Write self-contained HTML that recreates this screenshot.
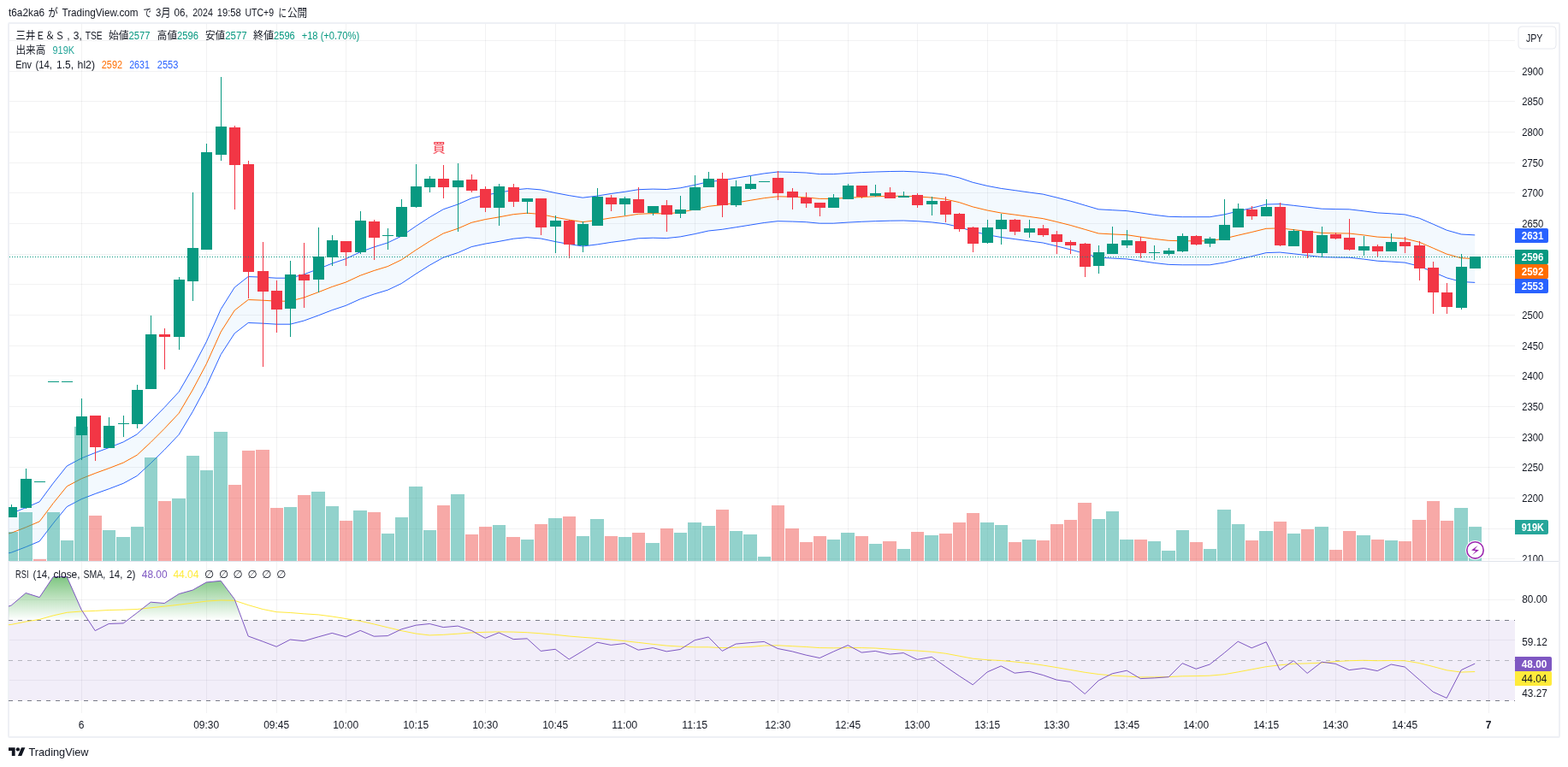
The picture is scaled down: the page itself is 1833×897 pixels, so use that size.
<!DOCTYPE html>
<html lang="ja"><head><meta charset="utf-8"><title>TradingView chart</title>
<style>html,body{margin:0;padding:0;background:#fff;}body{width:1833px;height:897px;overflow:hidden;}svg{display:block;}text{white-space:pre;}</style>
</head><body>
<svg width="1833" height="897" viewBox="0 0 1833 897" font-family='"Liberation Sans", "Noto Sans CJK JP", sans-serif'>
<defs>
<clipPath id="cm"><rect x="10" y="28" width="1761" height="628"/></clipPath>
<clipPath id="cr"><rect x="10" y="657" width="1761" height="177"/></clipPath>
<clipPath id="c70"><rect x="10" y="657" width="1761" height="68.25"/></clipPath>
<linearGradient id="gg" gradientUnits="userSpaceOnUse" x1="0" y1="654.67" x2="0" y2="725.25"><stop offset="0" stop-color="#4caf50" stop-opacity="1"/><stop offset="1" stop-color="#4caf50" stop-opacity="0"/></linearGradient>
<clipPath id="cm2"><rect x="1771" y="28" width="51" height="628"/></clipPath>
</defs>
<rect width="1833" height="897" fill="#fff"/>
<rect x="10" y="27" width="1813" height="835" rx="1.2" fill="#fff" stroke="#eef0f5" stroke-width="2"/>
<g fill="#2a2e39" fill-opacity="0.062" shape-rendering="crispEdges">
<rect x="95" y="28" width="1" height="806"/>
<rect x="241" y="28" width="1" height="806"/>
<rect x="323" y="28" width="1" height="806"/>
<rect x="404" y="28" width="1" height="806"/>
<rect x="486" y="28" width="1" height="806"/>
<rect x="567" y="28" width="1" height="806"/>
<rect x="649" y="28" width="1" height="806"/>
<rect x="730" y="28" width="1" height="806"/>
<rect x="812" y="28" width="1" height="806"/>
<rect x="909" y="28" width="1" height="806"/>
<rect x="991" y="28" width="1" height="806"/>
<rect x="1072" y="28" width="1" height="806"/>
<rect x="1154" y="28" width="1" height="806"/>
<rect x="1235" y="28" width="1" height="806"/>
<rect x="1317" y="28" width="1" height="806"/>
<rect x="1398" y="28" width="1" height="806"/>
<rect x="1480" y="28" width="1" height="806"/>
<rect x="1561" y="28" width="1" height="806"/>
<rect x="1642" y="28" width="1" height="806"/>
<rect x="1740" y="28" width="1" height="806"/>
<rect x="11" y="47" width="1760" height="1"/>
<rect x="11" y="83" width="1760" height="1"/>
<rect x="11" y="118" width="1760" height="1"/>
<rect x="11" y="154" width="1760" height="1"/>
<rect x="11" y="190" width="1760" height="1"/>
<rect x="11" y="225" width="1760" height="1"/>
<rect x="11" y="261" width="1760" height="1"/>
<rect x="11" y="297" width="1760" height="1"/>
<rect x="11" y="332" width="1760" height="1"/>
<rect x="11" y="368" width="1760" height="1"/>
<rect x="11" y="404" width="1760" height="1"/>
<rect x="11" y="439" width="1760" height="1"/>
<rect x="11" y="475" width="1760" height="1"/>
<rect x="11" y="511" width="1760" height="1"/>
<rect x="11" y="546" width="1760" height="1"/>
<rect x="11" y="582" width="1760" height="1"/>
<rect x="11" y="618" width="1760" height="1"/>
<rect x="11" y="653" width="1760" height="1"/>
<rect x="11" y="701" width="1760" height="1"/>
<rect x="11" y="748" width="1760" height="1"/>
<rect x="11" y="795" width="1760" height="1"/>
</g>
<g clip-path="url(#cm)">
<polygon points="-2.8,603.6 13.2,600.4 30.2,593.7 46.2,586.8 62.2,565.1 78.2,545.0 95.2,535.9 111.2,529.5 127.2,523.6 144.2,516.9 160.2,507.9 176.2,492.8 192.2,476.5 209.2,458.2 225.2,430.5 241.2,399.9 258.2,361.6 274.2,336.1 290.2,323.5 307.2,324.2 323.2,325.2 339.2,325.2 355.2,320.9 372.2,314.5 388.2,308.1 404.2,302.7 421.2,294.7 437.2,288.9 453.2,283.9 469.2,276.2 486.2,264.5 502.2,254.1 518.2,244.8 535.2,239.0 551.2,231.9 567.2,228.2 583.2,225.4 600.2,222.1 616.2,220.6 632.2,221.9 649.2,225.6 665.2,228.6 681.2,231.2 698.2,229.1 714.2,226.5 730.2,224.3 746.2,221.7 763.2,221.1 779.2,221.5 795.2,219.8 812.2,216.3 828.2,212.6 844.2,210.9 860.2,208.3 877.2,205.5 893.2,202.9 909.2,201.0 926.2,201.4 942.2,202.0 958.2,203.6 974.2,203.6 991.2,202.5 1007.2,201.6 1023.2,201.0 1040.2,200.5 1056.2,200.3 1072.2,201.0 1089.2,202.3 1105.2,204.2 1121.2,207.9 1137.2,213.3 1154.2,217.4 1170.2,220.4 1186.2,222.6 1203.2,225.0 1219.2,227.1 1235.2,231.0 1251.2,235.1 1268.2,240.1 1284.2,244.8 1300.2,245.7 1317.2,246.6 1333.2,248.9 1349.2,251.3 1366.2,253.3 1382.2,253.7 1398.2,253.7 1414.2,253.7 1431.2,250.9 1447.2,247.0 1463.2,243.3 1480.2,239.0 1496.2,238.6 1512.2,240.3 1528.2,242.2 1545.2,244.2 1561.2,244.6 1577.2,244.8 1594.2,246.8 1610.2,248.9 1626.2,249.8 1642.2,250.9 1659.2,255.2 1675.2,262.1 1691.2,269.2 1708.2,274.0 1724.2,274.9 1724.2,330.4 1708.2,329.5 1691.2,324.9 1675.2,318.0 1659.2,311.3 1642.2,307.1 1626.2,306.1 1610.2,305.2 1594.2,303.1 1577.2,301.2 1561.2,301.0 1545.2,300.6 1528.2,298.7 1512.2,296.8 1496.2,295.1 1480.2,295.6 1463.2,299.8 1447.2,303.3 1431.2,307.1 1414.2,309.8 1398.2,309.8 1382.2,309.8 1366.2,309.4 1349.2,307.5 1333.2,305.2 1317.2,302.9 1300.2,302.1 1284.2,301.2 1268.2,296.6 1251.2,291.8 1235.2,287.8 1219.2,284.0 1203.2,281.9 1186.2,279.6 1170.2,277.5 1154.2,274.6 1137.2,270.6 1121.2,265.4 1105.2,261.8 1089.2,259.9 1072.2,258.7 1056.2,258.0 1040.2,258.2 1023.2,258.7 1007.2,259.3 991.2,260.1 974.2,261.2 958.2,261.2 942.2,259.7 926.2,259.1 909.2,258.7 893.2,260.5 877.2,263.1 860.2,265.8 844.2,268.3 828.2,270.0 812.2,273.6 795.2,276.9 779.2,278.6 763.2,278.2 746.2,278.8 730.2,281.3 714.2,283.4 698.2,285.9 681.2,288.0 665.2,285.5 649.2,282.6 632.2,279.0 616.2,277.7 600.2,279.2 583.2,282.4 567.2,285.1 551.2,288.6 535.2,295.6 518.2,301.2 502.2,310.2 486.2,320.3 469.2,331.6 453.2,339.2 437.2,344.0 421.2,349.7 404.2,357.4 388.2,362.7 372.2,368.9 355.2,375.1 339.2,379.2 323.2,379.2 307.2,378.2 290.2,377.5 274.2,389.9 258.2,414.6 241.2,451.7 225.2,481.5 209.2,508.2 192.2,526.1 176.2,541.8 160.2,556.5 144.2,565.3 127.2,571.8 111.2,577.5 95.2,583.7 78.2,592.6 62.2,612.1 46.2,633.0 30.2,639.7 13.2,646.2 -2.8,649.4" fill="#2196f3" fill-opacity="0.055"/>
<polyline points="-2.8,603.6 13.2,600.4 30.2,593.7 46.2,586.8 62.2,565.1 78.2,545.0 95.2,535.9 111.2,529.5 127.2,523.6 144.2,516.9 160.2,507.9 176.2,492.8 192.2,476.5 209.2,458.2 225.2,430.5 241.2,399.9 258.2,361.6 274.2,336.1 290.2,323.5 307.2,324.2 323.2,325.2 339.2,325.2 355.2,320.9 372.2,314.5 388.2,308.1 404.2,302.7 421.2,294.7 437.2,288.9 453.2,283.9 469.2,276.2 486.2,264.5 502.2,254.1 518.2,244.8 535.2,239.0 551.2,231.9 567.2,228.2 583.2,225.4 600.2,222.1 616.2,220.6 632.2,221.9 649.2,225.6 665.2,228.6 681.2,231.2 698.2,229.1 714.2,226.5 730.2,224.3 746.2,221.7 763.2,221.1 779.2,221.5 795.2,219.8 812.2,216.3 828.2,212.6 844.2,210.9 860.2,208.3 877.2,205.5 893.2,202.9 909.2,201.0 926.2,201.4 942.2,202.0 958.2,203.6 974.2,203.6 991.2,202.5 1007.2,201.6 1023.2,201.0 1040.2,200.5 1056.2,200.3 1072.2,201.0 1089.2,202.3 1105.2,204.2 1121.2,207.9 1137.2,213.3 1154.2,217.4 1170.2,220.4 1186.2,222.6 1203.2,225.0 1219.2,227.1 1235.2,231.0 1251.2,235.1 1268.2,240.1 1284.2,244.8 1300.2,245.7 1317.2,246.6 1333.2,248.9 1349.2,251.3 1366.2,253.3 1382.2,253.7 1398.2,253.7 1414.2,253.7 1431.2,250.9 1447.2,247.0 1463.2,243.3 1480.2,239.0 1496.2,238.6 1512.2,240.3 1528.2,242.2 1545.2,244.2 1561.2,244.6 1577.2,244.8 1594.2,246.8 1610.2,248.9 1626.2,249.8 1642.2,250.9 1659.2,255.2 1675.2,262.1 1691.2,269.2 1708.2,274.0 1724.2,274.9" fill="none" stroke="#2962ff" stroke-width="1" stroke-linejoin="round"/>
<polyline points="-2.8,649.4 13.2,646.2 30.2,639.7 46.2,633.0 62.2,612.1 78.2,592.6 95.2,583.7 111.2,577.5 127.2,571.8 144.2,565.3 160.2,556.5 176.2,541.8 192.2,526.1 209.2,508.2 225.2,481.5 241.2,451.7 258.2,414.6 274.2,389.9 290.2,377.5 307.2,378.2 323.2,379.2 339.2,379.2 355.2,375.1 372.2,368.9 388.2,362.7 404.2,357.4 421.2,349.7 437.2,344.0 453.2,339.2 469.2,331.6 486.2,320.3 502.2,310.2 518.2,301.2 535.2,295.6 551.2,288.6 567.2,285.1 583.2,282.4 600.2,279.2 616.2,277.7 632.2,279.0 649.2,282.6 665.2,285.5 681.2,288.0 698.2,285.9 714.2,283.4 730.2,281.3 746.2,278.8 763.2,278.2 779.2,278.6 795.2,276.9 812.2,273.6 828.2,270.0 844.2,268.3 860.2,265.8 877.2,263.1 893.2,260.5 909.2,258.7 926.2,259.1 942.2,259.7 958.2,261.2 974.2,261.2 991.2,260.1 1007.2,259.3 1023.2,258.7 1040.2,258.2 1056.2,258.0 1072.2,258.7 1089.2,259.9 1105.2,261.8 1121.2,265.4 1137.2,270.6 1154.2,274.6 1170.2,277.5 1186.2,279.6 1203.2,281.9 1219.2,284.0 1235.2,287.8 1251.2,291.8 1268.2,296.6 1284.2,301.2 1300.2,302.1 1317.2,302.9 1333.2,305.2 1349.2,307.5 1366.2,309.4 1382.2,309.8 1398.2,309.8 1414.2,309.8 1431.2,307.1 1447.2,303.3 1463.2,299.8 1480.2,295.6 1496.2,295.1 1512.2,296.8 1528.2,298.7 1545.2,300.6 1561.2,301.0 1577.2,301.2 1594.2,303.1 1610.2,305.2 1626.2,306.1 1642.2,307.1 1659.2,311.3 1675.2,318.0 1691.2,324.9 1708.2,329.5 1724.2,330.4" fill="none" stroke="#2962ff" stroke-width="1" stroke-linejoin="round"/>
<polyline points="-2.8,626.5 13.2,623.3 30.2,616.7 46.2,609.9 62.2,588.6 78.2,568.8 95.2,559.8 111.2,553.5 127.2,547.7 144.2,541.1 160.2,532.2 176.2,517.3 192.2,501.3 209.2,483.2 225.2,456.0 241.2,425.8 258.2,388.1 274.2,363.0 290.2,350.5 307.2,351.2 323.2,352.2 339.2,352.2 355.2,348.0 372.2,341.7 388.2,335.4 404.2,330.1 421.2,322.2 437.2,316.5 453.2,311.6 469.2,303.9 486.2,292.4 502.2,282.2 518.2,273.0 535.2,267.3 551.2,260.3 567.2,256.6 583.2,253.9 600.2,250.7 616.2,249.2 632.2,250.5 649.2,254.1 665.2,257.1 681.2,259.6 698.2,257.5 714.2,254.9 730.2,252.8 746.2,250.3 763.2,249.6 779.2,250.0 795.2,248.3 812.2,244.9 828.2,241.3 844.2,239.6 860.2,237.1 877.2,234.3 893.2,231.7 909.2,229.8 926.2,230.2 942.2,230.9 958.2,232.4 974.2,232.4 991.2,231.3 1007.2,230.5 1023.2,229.8 1040.2,229.4 1056.2,229.2 1072.2,229.8 1089.2,231.1 1105.2,233.0 1121.2,236.6 1137.2,241.9 1154.2,246.0 1170.2,249.0 1186.2,251.1 1203.2,253.4 1219.2,255.6 1235.2,259.4 1251.2,263.4 1268.2,268.3 1284.2,273.0 1300.2,273.9 1317.2,274.7 1333.2,277.1 1349.2,279.4 1366.2,281.3 1382.2,281.8 1398.2,281.8 1414.2,281.8 1431.2,279.0 1447.2,275.2 1463.2,271.5 1480.2,267.3 1496.2,266.9 1512.2,268.6 1528.2,270.5 1545.2,272.4 1561.2,272.8 1577.2,273.0 1594.2,274.9 1610.2,277.1 1626.2,277.9 1642.2,279.0 1659.2,283.2 1675.2,290.1 1691.2,297.1 1708.2,301.8 1724.2,302.6" fill="none" stroke="#ff6d00" stroke-width="1" stroke-linejoin="round"/>
<g shape-rendering="crispEdges">
<rect x="6" y="622" width="15" height="34" fill="#26a69a" fill-opacity="0.5"/>
<rect x="22" y="599" width="16" height="57" fill="#26a69a" fill-opacity="0.5"/>
<rect x="39" y="654" width="15" height="2" fill="#ef5350" fill-opacity="0.5"/>
<rect x="55" y="599" width="15" height="57" fill="#26a69a" fill-opacity="0.5"/>
<rect x="71" y="632" width="15" height="24" fill="#26a69a" fill-opacity="0.5"/>
<rect x="87" y="499" width="16" height="157" fill="#26a69a" fill-opacity="0.5"/>
<rect x="104" y="603" width="15" height="53" fill="#ef5350" fill-opacity="0.5"/>
<rect x="120" y="620" width="15" height="36" fill="#26a69a" fill-opacity="0.5"/>
<rect x="136" y="628" width="16" height="28" fill="#26a69a" fill-opacity="0.5"/>
<rect x="153" y="616" width="15" height="40" fill="#26a69a" fill-opacity="0.5"/>
<rect x="169" y="535" width="15" height="121" fill="#26a69a" fill-opacity="0.5"/>
<rect x="185" y="586" width="15" height="70" fill="#ef5350" fill-opacity="0.5"/>
<rect x="201" y="583" width="16" height="73" fill="#26a69a" fill-opacity="0.5"/>
<rect x="218" y="533" width="15" height="123" fill="#26a69a" fill-opacity="0.5"/>
<rect x="234" y="550" width="15" height="106" fill="#26a69a" fill-opacity="0.5"/>
<rect x="250" y="505" width="16" height="151" fill="#26a69a" fill-opacity="0.5"/>
<rect x="267" y="567" width="15" height="89" fill="#ef5350" fill-opacity="0.5"/>
<rect x="283" y="527" width="15" height="129" fill="#ef5350" fill-opacity="0.5"/>
<rect x="299" y="526" width="16" height="130" fill="#ef5350" fill-opacity="0.5"/>
<rect x="316" y="594" width="15" height="62" fill="#ef5350" fill-opacity="0.5"/>
<rect x="332" y="593" width="15" height="63" fill="#26a69a" fill-opacity="0.5"/>
<rect x="348" y="579" width="15" height="77" fill="#ef5350" fill-opacity="0.5"/>
<rect x="364" y="575" width="16" height="81" fill="#26a69a" fill-opacity="0.5"/>
<rect x="381" y="592" width="15" height="64" fill="#26a69a" fill-opacity="0.5"/>
<rect x="397" y="609" width="15" height="47" fill="#ef5350" fill-opacity="0.5"/>
<rect x="413" y="597" width="16" height="59" fill="#26a69a" fill-opacity="0.5"/>
<rect x="430" y="599" width="15" height="57" fill="#ef5350" fill-opacity="0.5"/>
<rect x="446" y="624" width="15" height="32" fill="#26a69a" fill-opacity="0.5"/>
<rect x="462" y="605" width="15" height="51" fill="#26a69a" fill-opacity="0.5"/>
<rect x="478" y="569" width="16" height="87" fill="#26a69a" fill-opacity="0.5"/>
<rect x="495" y="620" width="15" height="36" fill="#26a69a" fill-opacity="0.5"/>
<rect x="511" y="591" width="15" height="65" fill="#ef5350" fill-opacity="0.5"/>
<rect x="527" y="578" width="16" height="78" fill="#26a69a" fill-opacity="0.5"/>
<rect x="544" y="625" width="15" height="31" fill="#ef5350" fill-opacity="0.5"/>
<rect x="560" y="616" width="15" height="40" fill="#ef5350" fill-opacity="0.5"/>
<rect x="576" y="614" width="15" height="42" fill="#26a69a" fill-opacity="0.5"/>
<rect x="592" y="628" width="16" height="28" fill="#ef5350" fill-opacity="0.5"/>
<rect x="609" y="631" width="15" height="25" fill="#26a69a" fill-opacity="0.5"/>
<rect x="625" y="613" width="15" height="43" fill="#ef5350" fill-opacity="0.5"/>
<rect x="641" y="606" width="16" height="50" fill="#26a69a" fill-opacity="0.5"/>
<rect x="658" y="604" width="15" height="52" fill="#ef5350" fill-opacity="0.5"/>
<rect x="674" y="627" width="15" height="29" fill="#26a69a" fill-opacity="0.5"/>
<rect x="690" y="607" width="16" height="49" fill="#26a69a" fill-opacity="0.5"/>
<rect x="707" y="627" width="15" height="29" fill="#ef5350" fill-opacity="0.5"/>
<rect x="723" y="628" width="15" height="28" fill="#26a69a" fill-opacity="0.5"/>
<rect x="739" y="623" width="15" height="33" fill="#ef5350" fill-opacity="0.5"/>
<rect x="755" y="635" width="16" height="21" fill="#26a69a" fill-opacity="0.5"/>
<rect x="772" y="618" width="15" height="38" fill="#ef5350" fill-opacity="0.5"/>
<rect x="788" y="623" width="15" height="33" fill="#26a69a" fill-opacity="0.5"/>
<rect x="804" y="611" width="16" height="45" fill="#26a69a" fill-opacity="0.5"/>
<rect x="821" y="615" width="15" height="41" fill="#26a69a" fill-opacity="0.5"/>
<rect x="837" y="596" width="15" height="60" fill="#ef5350" fill-opacity="0.5"/>
<rect x="853" y="621" width="15" height="35" fill="#26a69a" fill-opacity="0.5"/>
<rect x="869" y="625" width="16" height="31" fill="#26a69a" fill-opacity="0.5"/>
<rect x="886" y="651" width="15" height="5" fill="#26a69a" fill-opacity="0.5"/>
<rect x="902" y="591" width="15" height="65" fill="#ef5350" fill-opacity="0.5"/>
<rect x="918" y="618" width="16" height="38" fill="#ef5350" fill-opacity="0.5"/>
<rect x="935" y="634" width="15" height="22" fill="#ef5350" fill-opacity="0.5"/>
<rect x="951" y="627" width="15" height="29" fill="#ef5350" fill-opacity="0.5"/>
<rect x="967" y="631" width="15" height="25" fill="#26a69a" fill-opacity="0.5"/>
<rect x="983" y="623" width="16" height="33" fill="#26a69a" fill-opacity="0.5"/>
<rect x="1000" y="627" width="15" height="29" fill="#ef5350" fill-opacity="0.5"/>
<rect x="1016" y="636" width="15" height="20" fill="#26a69a" fill-opacity="0.5"/>
<rect x="1032" y="633" width="16" height="23" fill="#ef5350" fill-opacity="0.5"/>
<rect x="1049" y="642" width="15" height="14" fill="#26a69a" fill-opacity="0.5"/>
<rect x="1065" y="622" width="15" height="34" fill="#ef5350" fill-opacity="0.5"/>
<rect x="1081" y="626" width="16" height="30" fill="#26a69a" fill-opacity="0.5"/>
<rect x="1098" y="624" width="15" height="32" fill="#ef5350" fill-opacity="0.5"/>
<rect x="1114" y="611" width="15" height="45" fill="#ef5350" fill-opacity="0.5"/>
<rect x="1130" y="600" width="15" height="56" fill="#ef5350" fill-opacity="0.5"/>
<rect x="1146" y="611" width="16" height="45" fill="#26a69a" fill-opacity="0.5"/>
<rect x="1163" y="614" width="15" height="42" fill="#26a69a" fill-opacity="0.5"/>
<rect x="1179" y="634" width="15" height="22" fill="#ef5350" fill-opacity="0.5"/>
<rect x="1195" y="631" width="16" height="25" fill="#26a69a" fill-opacity="0.5"/>
<rect x="1212" y="632" width="15" height="24" fill="#ef5350" fill-opacity="0.5"/>
<rect x="1228" y="613" width="15" height="43" fill="#ef5350" fill-opacity="0.5"/>
<rect x="1244" y="608" width="15" height="48" fill="#ef5350" fill-opacity="0.5"/>
<rect x="1260" y="588" width="16" height="68" fill="#ef5350" fill-opacity="0.5"/>
<rect x="1277" y="607" width="15" height="49" fill="#26a69a" fill-opacity="0.5"/>
<rect x="1293" y="598" width="15" height="58" fill="#26a69a" fill-opacity="0.5"/>
<rect x="1309" y="631" width="16" height="25" fill="#26a69a" fill-opacity="0.5"/>
<rect x="1326" y="631" width="15" height="25" fill="#ef5350" fill-opacity="0.5"/>
<rect x="1342" y="633" width="15" height="23" fill="#26a69a" fill-opacity="0.5"/>
<rect x="1358" y="644" width="16" height="12" fill="#26a69a" fill-opacity="0.5"/>
<rect x="1375" y="620" width="15" height="36" fill="#26a69a" fill-opacity="0.5"/>
<rect x="1391" y="634" width="15" height="22" fill="#ef5350" fill-opacity="0.5"/>
<rect x="1407" y="642" width="15" height="14" fill="#26a69a" fill-opacity="0.5"/>
<rect x="1423" y="596" width="16" height="60" fill="#26a69a" fill-opacity="0.5"/>
<rect x="1440" y="613" width="15" height="43" fill="#26a69a" fill-opacity="0.5"/>
<rect x="1456" y="632" width="15" height="24" fill="#ef5350" fill-opacity="0.5"/>
<rect x="1472" y="621" width="16" height="35" fill="#26a69a" fill-opacity="0.5"/>
<rect x="1489" y="610" width="15" height="46" fill="#ef5350" fill-opacity="0.5"/>
<rect x="1505" y="624" width="15" height="32" fill="#26a69a" fill-opacity="0.5"/>
<rect x="1521" y="619" width="15" height="37" fill="#ef5350" fill-opacity="0.5"/>
<rect x="1537" y="616" width="16" height="40" fill="#26a69a" fill-opacity="0.5"/>
<rect x="1554" y="643" width="15" height="13" fill="#ef5350" fill-opacity="0.5"/>
<rect x="1570" y="621" width="15" height="35" fill="#ef5350" fill-opacity="0.5"/>
<rect x="1586" y="626" width="16" height="30" fill="#26a69a" fill-opacity="0.5"/>
<rect x="1603" y="631" width="15" height="25" fill="#ef5350" fill-opacity="0.5"/>
<rect x="1619" y="632" width="15" height="24" fill="#26a69a" fill-opacity="0.5"/>
<rect x="1635" y="633" width="15" height="23" fill="#ef5350" fill-opacity="0.5"/>
<rect x="1651" y="608" width="16" height="48" fill="#ef5350" fill-opacity="0.5"/>
<rect x="1668" y="586" width="15" height="70" fill="#ef5350" fill-opacity="0.5"/>
<rect x="1684" y="609" width="15" height="47" fill="#ef5350" fill-opacity="0.5"/>
<rect x="1700" y="594" width="16" height="62" fill="#26a69a" fill-opacity="0.5"/>
<rect x="1717" y="616" width="15" height="40" fill="#26a69a" fill-opacity="0.5"/>
</g>
<g shape-rendering="crispEdges">
<rect x="13" y="590" width="1" height="15" fill="#089981"/>
<rect x="7" y="593" width="13" height="12" fill="#089981"/>
<rect x="30" y="548" width="1" height="47" fill="#089981"/>
<rect x="24" y="560" width="13" height="34" fill="#089981"/>
<rect x="40" y="563" width="13" height="1" fill="#089981"/>
<rect x="56" y="446" width="13" height="1" fill="#089981"/>
<rect x="72" y="446" width="13" height="1" fill="#089981"/>
<rect x="95" y="466" width="1" height="72" fill="#089981"/>
<rect x="89" y="487" width="13" height="22" fill="#089981"/>
<rect x="111" y="486" width="1" height="53" fill="#f23645"/>
<rect x="105" y="486" width="13" height="37" fill="#f23645"/>
<rect x="127" y="488" width="1" height="36" fill="#089981"/>
<rect x="121" y="498" width="13" height="26" fill="#089981"/>
<rect x="144" y="486" width="1" height="25" fill="#089981"/>
<rect x="138" y="495" width="13" height="1" fill="#089981"/>
<rect x="160" y="450" width="1" height="51" fill="#089981"/>
<rect x="154" y="456" width="13" height="40" fill="#089981"/>
<rect x="176" y="369" width="1" height="86" fill="#089981"/>
<rect x="170" y="391" width="13" height="64" fill="#089981"/>
<rect x="192" y="384" width="1" height="48" fill="#f23645"/>
<rect x="186" y="391" width="13" height="3" fill="#f23645"/>
<rect x="209" y="324" width="1" height="85" fill="#089981"/>
<rect x="203" y="327" width="13" height="67" fill="#089981"/>
<rect x="225" y="225" width="1" height="127" fill="#089981"/>
<rect x="219" y="290" width="13" height="39" fill="#089981"/>
<rect x="241" y="168" width="1" height="124" fill="#089981"/>
<rect x="235" y="178" width="13" height="114" fill="#089981"/>
<rect x="258" y="90" width="1" height="98" fill="#089981"/>
<rect x="252" y="148" width="13" height="33" fill="#089981"/>
<rect x="274" y="147" width="1" height="98" fill="#f23645"/>
<rect x="268" y="149" width="13" height="44" fill="#f23645"/>
<rect x="290" y="188" width="1" height="161" fill="#f23645"/>
<rect x="284" y="192" width="13" height="126" fill="#f23645"/>
<rect x="307" y="283" width="1" height="146" fill="#f23645"/>
<rect x="301" y="317" width="13" height="24" fill="#f23645"/>
<rect x="323" y="328" width="1" height="61" fill="#f23645"/>
<rect x="317" y="340" width="13" height="22" fill="#f23645"/>
<rect x="339" y="305" width="1" height="89" fill="#089981"/>
<rect x="333" y="321" width="13" height="40" fill="#089981"/>
<rect x="355" y="284" width="1" height="76" fill="#f23645"/>
<rect x="349" y="321" width="13" height="7" fill="#f23645"/>
<rect x="372" y="266" width="1" height="76" fill="#089981"/>
<rect x="366" y="300" width="13" height="27" fill="#089981"/>
<rect x="388" y="275" width="1" height="36" fill="#089981"/>
<rect x="382" y="281" width="13" height="20" fill="#089981"/>
<rect x="404" y="282" width="1" height="29" fill="#f23645"/>
<rect x="398" y="282" width="13" height="13" fill="#f23645"/>
<rect x="421" y="247" width="1" height="50" fill="#089981"/>
<rect x="415" y="258" width="13" height="37" fill="#089981"/>
<rect x="437" y="257" width="1" height="47" fill="#f23645"/>
<rect x="431" y="259" width="13" height="19" fill="#f23645"/>
<rect x="453" y="267" width="1" height="25" fill="#089981"/>
<rect x="447" y="275" width="13" height="1" fill="#089981"/>
<rect x="469" y="233" width="1" height="44" fill="#089981"/>
<rect x="463" y="242" width="13" height="35" fill="#089981"/>
<rect x="486" y="192" width="1" height="51" fill="#089981"/>
<rect x="480" y="218" width="13" height="24" fill="#089981"/>
<rect x="502" y="206" width="1" height="19" fill="#089981"/>
<rect x="496" y="209" width="13" height="10" fill="#089981"/>
<rect x="518" y="193" width="1" height="39" fill="#f23645"/>
<rect x="512" y="209" width="13" height="10" fill="#f23645"/>
<rect x="535" y="191" width="1" height="80" fill="#089981"/>
<rect x="529" y="211" width="13" height="8" fill="#089981"/>
<rect x="551" y="204" width="1" height="21" fill="#f23645"/>
<rect x="545" y="210" width="13" height="13" fill="#f23645"/>
<rect x="567" y="218" width="1" height="30" fill="#f23645"/>
<rect x="561" y="221" width="13" height="22" fill="#f23645"/>
<rect x="583" y="215" width="1" height="49" fill="#089981"/>
<rect x="577" y="218" width="13" height="25" fill="#089981"/>
<rect x="600" y="215" width="1" height="27" fill="#f23645"/>
<rect x="594" y="219" width="13" height="17" fill="#f23645"/>
<rect x="616" y="232" width="1" height="18" fill="#089981"/>
<rect x="610" y="232" width="13" height="4" fill="#089981"/>
<rect x="632" y="232" width="1" height="43" fill="#f23645"/>
<rect x="626" y="232" width="13" height="34" fill="#f23645"/>
<rect x="649" y="252" width="1" height="44" fill="#089981"/>
<rect x="643" y="258" width="13" height="7" fill="#089981"/>
<rect x="665" y="257" width="1" height="45" fill="#f23645"/>
<rect x="659" y="258" width="13" height="28" fill="#f23645"/>
<rect x="681" y="259" width="1" height="36" fill="#089981"/>
<rect x="675" y="262" width="13" height="25" fill="#089981"/>
<rect x="698" y="220" width="1" height="44" fill="#089981"/>
<rect x="692" y="230" width="13" height="34" fill="#089981"/>
<rect x="714" y="228" width="1" height="19" fill="#f23645"/>
<rect x="708" y="231" width="13" height="8" fill="#f23645"/>
<rect x="730" y="230" width="1" height="22" fill="#089981"/>
<rect x="724" y="232" width="13" height="7" fill="#089981"/>
<rect x="746" y="219" width="1" height="30" fill="#f23645"/>
<rect x="740" y="233" width="13" height="16" fill="#f23645"/>
<rect x="763" y="241" width="1" height="11" fill="#089981"/>
<rect x="757" y="241" width="13" height="8" fill="#089981"/>
<rect x="779" y="234" width="1" height="37" fill="#f23645"/>
<rect x="773" y="240" width="13" height="11" fill="#f23645"/>
<rect x="795" y="229" width="1" height="26" fill="#089981"/>
<rect x="789" y="245" width="13" height="5" fill="#089981"/>
<rect x="812" y="205" width="1" height="41" fill="#089981"/>
<rect x="806" y="219" width="13" height="27" fill="#089981"/>
<rect x="828" y="201" width="1" height="18" fill="#089981"/>
<rect x="822" y="209" width="13" height="10" fill="#089981"/>
<rect x="844" y="202" width="1" height="52" fill="#f23645"/>
<rect x="838" y="209" width="13" height="31" fill="#f23645"/>
<rect x="860" y="211" width="1" height="31" fill="#089981"/>
<rect x="854" y="218" width="13" height="22" fill="#089981"/>
<rect x="877" y="206" width="1" height="16" fill="#089981"/>
<rect x="871" y="215" width="13" height="6" fill="#089981"/>
<rect x="887" y="212" width="13" height="1" fill="#089981"/>
<rect x="909" y="200" width="1" height="34" fill="#f23645"/>
<rect x="903" y="208" width="13" height="18" fill="#f23645"/>
<rect x="926" y="220" width="1" height="25" fill="#f23645"/>
<rect x="920" y="224" width="13" height="7" fill="#f23645"/>
<rect x="942" y="225" width="1" height="18" fill="#f23645"/>
<rect x="936" y="231" width="13" height="7" fill="#f23645"/>
<rect x="958" y="237" width="1" height="16" fill="#f23645"/>
<rect x="952" y="237" width="13" height="6" fill="#f23645"/>
<rect x="974" y="227" width="1" height="16" fill="#089981"/>
<rect x="968" y="231" width="13" height="12" fill="#089981"/>
<rect x="991" y="215" width="1" height="18" fill="#089981"/>
<rect x="985" y="217" width="13" height="16" fill="#089981"/>
<rect x="1007" y="217" width="1" height="15" fill="#f23645"/>
<rect x="1001" y="217" width="13" height="13" fill="#f23645"/>
<rect x="1023" y="216" width="1" height="14" fill="#089981"/>
<rect x="1017" y="226" width="13" height="3" fill="#089981"/>
<rect x="1040" y="219" width="1" height="13" fill="#f23645"/>
<rect x="1034" y="225" width="13" height="7" fill="#f23645"/>
<rect x="1056" y="224" width="1" height="7" fill="#089981"/>
<rect x="1050" y="229" width="13" height="2" fill="#089981"/>
<rect x="1072" y="226" width="1" height="17" fill="#f23645"/>
<rect x="1066" y="228" width="13" height="12" fill="#f23645"/>
<rect x="1089" y="230" width="1" height="22" fill="#089981"/>
<rect x="1083" y="235" width="13" height="4" fill="#089981"/>
<rect x="1105" y="230" width="1" height="30" fill="#f23645"/>
<rect x="1099" y="235" width="13" height="16" fill="#f23645"/>
<rect x="1121" y="249" width="1" height="22" fill="#f23645"/>
<rect x="1115" y="250" width="13" height="18" fill="#f23645"/>
<rect x="1137" y="265" width="1" height="30" fill="#f23645"/>
<rect x="1131" y="266" width="13" height="19" fill="#f23645"/>
<rect x="1154" y="257" width="1" height="28" fill="#089981"/>
<rect x="1148" y="266" width="13" height="18" fill="#089981"/>
<rect x="1170" y="250" width="1" height="36" fill="#089981"/>
<rect x="1164" y="257" width="13" height="11" fill="#089981"/>
<rect x="1186" y="256" width="1" height="19" fill="#f23645"/>
<rect x="1180" y="257" width="13" height="14" fill="#f23645"/>
<rect x="1203" y="257" width="1" height="21" fill="#089981"/>
<rect x="1197" y="267" width="13" height="5" fill="#089981"/>
<rect x="1219" y="263" width="1" height="14" fill="#f23645"/>
<rect x="1213" y="267" width="13" height="8" fill="#f23645"/>
<rect x="1235" y="270" width="1" height="27" fill="#f23645"/>
<rect x="1229" y="274" width="13" height="9" fill="#f23645"/>
<rect x="1251" y="281" width="1" height="16" fill="#f23645"/>
<rect x="1245" y="283" width="13" height="4" fill="#f23645"/>
<rect x="1268" y="284" width="1" height="40" fill="#f23645"/>
<rect x="1262" y="285" width="13" height="27" fill="#f23645"/>
<rect x="1284" y="287" width="1" height="33" fill="#089981"/>
<rect x="1278" y="295" width="13" height="16" fill="#089981"/>
<rect x="1300" y="265" width="1" height="32" fill="#089981"/>
<rect x="1294" y="285" width="13" height="12" fill="#089981"/>
<rect x="1317" y="269" width="1" height="21" fill="#089981"/>
<rect x="1311" y="281" width="13" height="6" fill="#089981"/>
<rect x="1333" y="277" width="1" height="25" fill="#f23645"/>
<rect x="1327" y="282" width="13" height="14" fill="#f23645"/>
<rect x="1349" y="287" width="1" height="17" fill="#089981"/>
<rect x="1343" y="295" width="13" height="1" fill="#089981"/>
<rect x="1366" y="290" width="1" height="9" fill="#089981"/>
<rect x="1360" y="293" width="13" height="4" fill="#089981"/>
<rect x="1382" y="273" width="1" height="22" fill="#089981"/>
<rect x="1376" y="276" width="13" height="18" fill="#089981"/>
<rect x="1398" y="275" width="1" height="12" fill="#f23645"/>
<rect x="1392" y="276" width="13" height="10" fill="#f23645"/>
<rect x="1414" y="277" width="1" height="12" fill="#089981"/>
<rect x="1408" y="279" width="13" height="6" fill="#089981"/>
<rect x="1431" y="233" width="1" height="48" fill="#089981"/>
<rect x="1425" y="263" width="13" height="18" fill="#089981"/>
<rect x="1447" y="238" width="1" height="28" fill="#089981"/>
<rect x="1441" y="244" width="13" height="22" fill="#089981"/>
<rect x="1463" y="241" width="1" height="16" fill="#f23645"/>
<rect x="1457" y="245" width="13" height="8" fill="#f23645"/>
<rect x="1480" y="233" width="1" height="20" fill="#089981"/>
<rect x="1474" y="242" width="13" height="11" fill="#089981"/>
<rect x="1496" y="237" width="1" height="51" fill="#f23645"/>
<rect x="1490" y="242" width="13" height="45" fill="#f23645"/>
<rect x="1512" y="268" width="1" height="20" fill="#089981"/>
<rect x="1506" y="270" width="13" height="18" fill="#089981"/>
<rect x="1528" y="270" width="1" height="32" fill="#f23645"/>
<rect x="1522" y="270" width="13" height="26" fill="#f23645"/>
<rect x="1545" y="265" width="1" height="36" fill="#089981"/>
<rect x="1539" y="275" width="13" height="21" fill="#089981"/>
<rect x="1561" y="272" width="1" height="8" fill="#f23645"/>
<rect x="1555" y="274" width="13" height="5" fill="#f23645"/>
<rect x="1577" y="256" width="1" height="37" fill="#f23645"/>
<rect x="1571" y="278" width="13" height="14" fill="#f23645"/>
<rect x="1594" y="276" width="1" height="23" fill="#089981"/>
<rect x="1588" y="288" width="13" height="5" fill="#089981"/>
<rect x="1610" y="286" width="1" height="14" fill="#f23645"/>
<rect x="1604" y="288" width="13" height="6" fill="#f23645"/>
<rect x="1626" y="273" width="1" height="21" fill="#089981"/>
<rect x="1620" y="283" width="13" height="11" fill="#089981"/>
<rect x="1642" y="277" width="1" height="19" fill="#f23645"/>
<rect x="1636" y="283" width="13" height="5" fill="#f23645"/>
<rect x="1659" y="282" width="1" height="46" fill="#f23645"/>
<rect x="1653" y="287" width="13" height="27" fill="#f23645"/>
<rect x="1675" y="306" width="1" height="61" fill="#f23645"/>
<rect x="1669" y="313" width="13" height="29" fill="#f23645"/>
<rect x="1691" y="331" width="1" height="36" fill="#f23645"/>
<rect x="1685" y="342" width="13" height="17" fill="#f23645"/>
<rect x="1708" y="297" width="1" height="65" fill="#089981"/>
<rect x="1702" y="312" width="13" height="48" fill="#089981"/>
<rect x="1718" y="300" width="13" height="14" fill="#089981"/>
</g>
</g>
<line x1="11" y1="300.5" x2="1771" y2="300.5" stroke="#089981" stroke-width="1" stroke-dasharray="1 2" shape-rendering="crispEdges"/>
<text x="513.10" y="178.40" font-size="15.3" fill="#f23645" text-anchor="middle">買</text>
<rect x="11" y="656" width="1811" height="1" fill="#e0e3eb" shape-rendering="crispEdges"/>
<rect x="11" y="725.2" width="1760" height="94.1" fill="#7e57c2" fill-opacity="0.1"/>
<g clip-path="url(#cr)">
<polygon points="-2.8,713.5 13.2,708.0 30.2,693.5 46.2,698.6 62.2,674.6 78.2,674.6 95.2,713.1 111.2,737.6 127.2,729.5 144.2,728.9 160.2,716.7 176.2,704.2 192.2,705.5 209.2,694.6 225.2,690.1 241.2,681.0 258.2,679.3 274.2,700.8 290.2,744.0 307.2,750.2 323.2,756.3 339.2,748.0 355.2,749.7 372.2,744.8 388.2,740.4 404.2,744.8 421.2,737.4 437.2,744.2 453.2,743.6 469.2,735.9 486.2,731.2 502.2,729.5 518.2,733.6 535.2,732.1 551.2,737.4 567.2,746.3 583.2,739.9 600.2,747.6 616.2,746.8 632.2,761.4 649.2,759.3 665.2,771.0 681.2,761.4 698.2,751.2 714.2,754.4 730.2,752.5 746.2,760.2 763.2,757.6 779.2,761.9 795.2,759.5 812.2,748.7 828.2,745.0 844.2,761.4 860.2,753.1 877.2,751.6 893.2,750.4 909.2,758.5 926.2,761.9 942.2,766.1 958.2,769.5 974.2,762.1 991.2,754.6 1007.2,763.1 1023.2,761.4 1040.2,765.1 1056.2,763.6 1072.2,771.4 1089.2,768.3 1105.2,779.5 1121.2,790.4 1137.2,800.8 1154.2,785.9 1170.2,778.9 1186.2,787.2 1203.2,785.3 1219.2,789.5 1235.2,795.1 1251.2,797.4 1268.2,811.5 1284.2,795.9 1300.2,787.8 1317.2,784.2 1333.2,793.6 1349.2,792.9 1366.2,791.7 1382.2,775.7 1398.2,782.3 1414.2,777.0 1431.2,763.6 1447.2,750.2 1463.2,757.8 1480.2,750.8 1496.2,783.6 1512.2,772.7 1528.2,787.4 1545.2,774.2 1561.2,776.3 1577.2,783.6 1594.2,781.5 1610.2,784.6 1626.2,777.0 1642.2,780.0 1659.2,794.9 1675.2,809.1 1691.2,816.4 1708.2,783.6 1724.2,776.1 1724.2,772.3 -2.8,772.3" fill="url(#gg)" clip-path="url(#c70)"/>
<line x1="10" y1="725.5" x2="1771" y2="725.5" stroke="#787b86" stroke-opacity="1" stroke-width="1" stroke-dasharray="5 6" shape-rendering="crispEdges"/>
<line x1="10" y1="772.5" x2="1771" y2="772.5" stroke="#787b86" stroke-opacity="0.5" stroke-width="1" stroke-dasharray="5 6" shape-rendering="crispEdges"/>
<line x1="10" y1="819.5" x2="1771" y2="819.5" stroke="#787b86" stroke-opacity="1" stroke-width="1" stroke-dasharray="5 6" shape-rendering="crispEdges"/>
<polyline points="-2.8,731.9 13.2,730.4 30.2,727.0 46.2,724.4 62.2,719.9 78.2,716.3 95.2,715.0 111.2,714.4 127.2,713.5 144.2,713.1 160.2,712.5 176.2,710.8 192.2,709.1 209.2,707.2 225.2,705.2 241.2,703.1 258.2,702.0 274.2,702.3 290.2,707.6 307.2,712.5 323.2,715.7 339.2,716.5 355.2,717.8 372.2,718.9 388.2,721.0 404.2,723.5 421.2,726.3 437.2,729.9 453.2,733.8 469.2,737.6 486.2,741.0 502.2,742.9 518.2,742.3 535.2,741.2 551.2,739.9 567.2,739.3 583.2,738.9 600.2,739.1 616.2,739.7 632.2,740.8 649.2,742.3 665.2,744.0 681.2,745.3 698.2,746.5 714.2,748.0 730.2,749.7 746.2,751.4 763.2,753.4 779.2,755.1 795.2,756.1 812.2,756.8 828.2,756.8 844.2,757.6 860.2,757.2 877.2,756.5 893.2,755.1 909.2,754.8 926.2,755.7 942.2,756.5 958.2,757.6 974.2,757.8 991.2,757.6 1007.2,757.6 1023.2,758.0 1040.2,759.1 1056.2,760.2 1072.2,761.0 1089.2,762.3 1105.2,764.2 1121.2,767.2 1137.2,770.2 1154.2,771.7 1170.2,772.5 1186.2,774.0 1203.2,775.7 1219.2,778.0 1235.2,780.6 1251.2,783.4 1268.2,786.3 1284.2,788.5 1300.2,790.0 1317.2,791.0 1333.2,791.9 1349.2,791.9 1366.2,791.5 1382.2,790.8 1398.2,790.6 1414.2,790.2 1431.2,788.7 1447.2,785.9 1463.2,782.9 1480.2,779.7 1496.2,777.8 1512.2,776.3 1528.2,775.9 1545.2,775.1 1561.2,773.6 1577.2,772.7 1594.2,772.3 1610.2,772.7 1626.2,772.5 1642.2,772.7 1659.2,775.5 1675.2,779.5 1691.2,783.8 1708.2,786.1 1724.2,785.5" fill="none" stroke="#ffe93b" stroke-width="1" stroke-linejoin="round"/>
<polyline points="-2.8,713.5 13.2,708.0 30.2,693.5 46.2,698.6 62.2,674.6 78.2,674.6 95.2,713.1 111.2,737.6 127.2,729.5 144.2,728.9 160.2,716.7 176.2,704.2 192.2,705.5 209.2,694.6 225.2,690.1 241.2,681.0 258.2,679.3 274.2,700.8 290.2,744.0 307.2,750.2 323.2,756.3 339.2,748.0 355.2,749.7 372.2,744.8 388.2,740.4 404.2,744.8 421.2,737.4 437.2,744.2 453.2,743.6 469.2,735.9 486.2,731.2 502.2,729.5 518.2,733.6 535.2,732.1 551.2,737.4 567.2,746.3 583.2,739.9 600.2,747.6 616.2,746.8 632.2,761.4 649.2,759.3 665.2,771.0 681.2,761.4 698.2,751.2 714.2,754.4 730.2,752.5 746.2,760.2 763.2,757.6 779.2,761.9 795.2,759.5 812.2,748.7 828.2,745.0 844.2,761.4 860.2,753.1 877.2,751.6 893.2,750.4 909.2,758.5 926.2,761.9 942.2,766.1 958.2,769.5 974.2,762.1 991.2,754.6 1007.2,763.1 1023.2,761.4 1040.2,765.1 1056.2,763.6 1072.2,771.4 1089.2,768.3 1105.2,779.5 1121.2,790.4 1137.2,800.8 1154.2,785.9 1170.2,778.9 1186.2,787.2 1203.2,785.3 1219.2,789.5 1235.2,795.1 1251.2,797.4 1268.2,811.5 1284.2,795.9 1300.2,787.8 1317.2,784.2 1333.2,793.6 1349.2,792.9 1366.2,791.7 1382.2,775.7 1398.2,782.3 1414.2,777.0 1431.2,763.6 1447.2,750.2 1463.2,757.8 1480.2,750.8 1496.2,783.6 1512.2,772.7 1528.2,787.4 1545.2,774.2 1561.2,776.3 1577.2,783.6 1594.2,781.5 1610.2,784.6 1626.2,777.0 1642.2,780.0 1659.2,794.9 1675.2,809.1 1691.2,816.4 1708.2,783.6 1724.2,776.1" fill="none" stroke="#7e57c2" stroke-width="1" stroke-linejoin="round"/>
</g>
<circle cx="1724.5" cy="643.4" r="11.3" fill="#fff"/>
<circle cx="1724.5" cy="643.4" r="9.7" fill="#fff" stroke="#9c27b0" stroke-width="1.6"/>
<path d="M1727.80 637.80 L1720.00 643.50 L1725.20 644.40 L1721.00 649.00 L1729.00 643.30 L1723.90 642.40 Z" fill="#9c27b0"/>
<text x="10.00" y="19.40" font-size="13" fill="#131722" textLength="42.10" lengthAdjust="spacingAndGlyphs">t6a2ka6</text>
<text x="56.20" y="19.40" font-size="13" fill="#131722" textLength="11.60" lengthAdjust="spacingAndGlyphs">が</text>
<text x="72.50" y="19.40" font-size="13" fill="#131722" textLength="89.10" lengthAdjust="spacingAndGlyphs">TradingView.com</text>
<text x="167.50" y="19.40" font-size="13" fill="#131722" textLength="9.40" lengthAdjust="spacingAndGlyphs">で</text>
<text x="181.90" y="19.40" font-size="13" fill="#131722" textLength="17.60" lengthAdjust="spacingAndGlyphs">3月</text>
<text x="203.50" y="19.40" font-size="13" fill="#131722" textLength="16.10" lengthAdjust="spacingAndGlyphs">06,</text>
<text x="225.20" y="19.40" font-size="13" fill="#131722" textLength="23.60" lengthAdjust="spacingAndGlyphs">2024</text>
<text x="253.80" y="19.40" font-size="13" fill="#131722" textLength="28.00" lengthAdjust="spacingAndGlyphs">19:58</text>
<text x="286.50" y="19.40" font-size="13" fill="#131722" textLength="33.60" lengthAdjust="spacingAndGlyphs">UTC+9</text>
<text x="325.40" y="19.40" font-size="13" fill="#131722" textLength="9.60" lengthAdjust="spacingAndGlyphs">に</text>
<text x="336.00" y="19.40" font-size="13" fill="#131722" textLength="23.20" lengthAdjust="spacingAndGlyphs">公開</text>
<text x="18.60" y="46.40" font-size="12" fill="#131722" textLength="57.10" lengthAdjust="spacingAndGlyphs">三井Ｅ＆Ｓ</text>
<text x="78.60" y="46.40" font-size="12" fill="#131722" textLength="3.00" lengthAdjust="spacingAndGlyphs">,</text>
<text x="85.80" y="46.40" font-size="12" fill="#131722" textLength="10.00" lengthAdjust="spacingAndGlyphs">3,</text>
<text x="99.70" y="46.40" font-size="12" fill="#131722" textLength="19.80" lengthAdjust="spacingAndGlyphs">TSE</text>
<text x="127.00" y="46.40" font-size="12" fill="#131722" textLength="23.60" lengthAdjust="spacingAndGlyphs">始値</text>
<text x="150.60" y="46.40" font-size="12" fill="#089981" textLength="24.80" lengthAdjust="spacingAndGlyphs">2577</text>
<text x="183.80" y="46.40" font-size="12" fill="#131722" textLength="23.20" lengthAdjust="spacingAndGlyphs">高値</text>
<text x="207.00" y="46.40" font-size="12" fill="#089981" textLength="24.90" lengthAdjust="spacingAndGlyphs">2596</text>
<text x="240.00" y="46.40" font-size="12" fill="#131722" textLength="23.20" lengthAdjust="spacingAndGlyphs">安値</text>
<text x="263.20" y="46.40" font-size="12" fill="#089981" textLength="25.50" lengthAdjust="spacingAndGlyphs">2577</text>
<text x="295.90" y="46.40" font-size="12" fill="#131722" textLength="24.20" lengthAdjust="spacingAndGlyphs">終値</text>
<text x="320.10" y="46.40" font-size="12" fill="#089981" textLength="24.70" lengthAdjust="spacingAndGlyphs">2596</text>
<text x="352.70" y="46.40" font-size="12" fill="#089981" textLength="67.40" lengthAdjust="spacingAndGlyphs">+18 (+0.70%)</text>
<text x="18.40" y="62.70" font-size="12" fill="#131722" textLength="34.90" lengthAdjust="spacingAndGlyphs">出来高</text>
<text x="61.50" y="62.70" font-size="12" fill="#26a69a" textLength="25.50" lengthAdjust="spacingAndGlyphs">919K</text>
<text x="18.20" y="79.90" font-size="12" fill="#131722" textLength="18.80" lengthAdjust="spacingAndGlyphs">Env</text>
<text x="41.60" y="79.90" font-size="12" fill="#131722" textLength="19.40" lengthAdjust="spacingAndGlyphs">(14,</text>
<text x="66.00" y="79.90" font-size="12" fill="#131722" textLength="20.00" lengthAdjust="spacingAndGlyphs">1.5,</text>
<text x="90.60" y="79.90" font-size="12" fill="#131722" textLength="20.40" lengthAdjust="spacingAndGlyphs">hl2)</text>
<text x="118.80" y="79.90" font-size="12" fill="#ff6d00" textLength="24.20" lengthAdjust="spacingAndGlyphs">2592</text>
<text x="151.20" y="79.90" font-size="12" fill="#2962ff" textLength="23.60" lengthAdjust="spacingAndGlyphs">2631</text>
<text x="183.80" y="79.90" font-size="12" fill="#2962ff" textLength="24.50" lengthAdjust="spacingAndGlyphs">2553</text>
<text x="18.10" y="675.90" font-size="12" fill="#131722" textLength="15.40" lengthAdjust="spacingAndGlyphs">RSI</text>
<text x="38.60" y="675.90" font-size="12" fill="#131722" textLength="19.80" lengthAdjust="spacingAndGlyphs">(14,</text>
<text x="62.40" y="675.90" font-size="12" fill="#131722" textLength="31.20" lengthAdjust="spacingAndGlyphs">close,</text>
<text x="97.60" y="675.90" font-size="12" fill="#131722" textLength="25.60" lengthAdjust="spacingAndGlyphs">SMA,</text>
<text x="127.60" y="675.90" font-size="12" fill="#131722" textLength="15.70" lengthAdjust="spacingAndGlyphs">14,</text>
<text x="148.00" y="675.90" font-size="12" fill="#131722" textLength="10.40" lengthAdjust="spacingAndGlyphs">2)</text>
<text x="165.80" y="675.90" font-size="12" fill="#7e57c2" textLength="29.80" lengthAdjust="spacingAndGlyphs">48.00</text>
<text x="202.40" y="675.90" font-size="12" fill="#ffeb3b" textLength="30.10" lengthAdjust="spacingAndGlyphs">44.04</text>
<text x="244.50" y="675.80" font-size="12.8" fill="#131722" text-anchor="middle" font-family="DejaVu Sans, sans-serif">∅</text>
<text x="261.50" y="675.80" font-size="12.8" fill="#131722" text-anchor="middle" font-family="DejaVu Sans, sans-serif">∅</text>
<text x="278.20" y="675.80" font-size="12.8" fill="#131722" text-anchor="middle" font-family="DejaVu Sans, sans-serif">∅</text>
<text x="295.20" y="675.80" font-size="12.8" fill="#131722" text-anchor="middle" font-family="DejaVu Sans, sans-serif">∅</text>
<text x="311.80" y="675.80" font-size="12.8" fill="#131722" text-anchor="middle" font-family="DejaVu Sans, sans-serif">∅</text>
<text x="328.80" y="675.80" font-size="12.8" fill="#131722" text-anchor="middle" font-family="DejaVu Sans, sans-serif">∅</text>
<g clip-path="url(#cm2)">
<text x="1779.30" y="87.50" font-size="12" fill="#131722" textLength="25.00" lengthAdjust="spacingAndGlyphs">2900</text>
<text x="1779.30" y="123.18" font-size="12" fill="#131722" textLength="25.00" lengthAdjust="spacingAndGlyphs">2850</text>
<text x="1779.30" y="158.86" font-size="12" fill="#131722" textLength="25.00" lengthAdjust="spacingAndGlyphs">2800</text>
<text x="1779.30" y="194.54" font-size="12" fill="#131722" textLength="25.00" lengthAdjust="spacingAndGlyphs">2750</text>
<text x="1779.30" y="230.22" font-size="12" fill="#131722" textLength="25.00" lengthAdjust="spacingAndGlyphs">2700</text>
<text x="1779.30" y="265.90" font-size="12" fill="#131722" textLength="25.00" lengthAdjust="spacingAndGlyphs">2650</text>
<text x="1779.30" y="372.94" font-size="12" fill="#131722" textLength="25.00" lengthAdjust="spacingAndGlyphs">2500</text>
<text x="1779.30" y="408.62" font-size="12" fill="#131722" textLength="25.00" lengthAdjust="spacingAndGlyphs">2450</text>
<text x="1779.30" y="444.30" font-size="12" fill="#131722" textLength="25.00" lengthAdjust="spacingAndGlyphs">2400</text>
<text x="1779.30" y="479.98" font-size="12" fill="#131722" textLength="25.00" lengthAdjust="spacingAndGlyphs">2350</text>
<text x="1779.30" y="515.66" font-size="12" fill="#131722" textLength="25.00" lengthAdjust="spacingAndGlyphs">2300</text>
<text x="1779.30" y="551.34" font-size="12" fill="#131722" textLength="25.00" lengthAdjust="spacingAndGlyphs">2250</text>
<text x="1779.30" y="587.02" font-size="12" fill="#131722" textLength="25.00" lengthAdjust="spacingAndGlyphs">2200</text>
<text x="1779.30" y="622.70" font-size="12" fill="#131722" textLength="25.00" lengthAdjust="spacingAndGlyphs">2150</text>
<text x="1779.30" y="658.38" font-size="12" fill="#131722" textLength="25.00" lengthAdjust="spacingAndGlyphs">2100</text>
</g>
<path d="M1771 267 h37 a2 2 0 0 1 2 2 v13 a2 2 0 0 1 -2 2 h-37 z" fill="#2962ff"/>
<text x="1778.80" y="279.80" font-size="12" fill="#fff" font-weight="bold" textLength="25.50" lengthAdjust="spacingAndGlyphs">2631</text>
<path d="M1771 292 h37 a2 2 0 0 1 2 2 v13 a2 2 0 0 1 -2 2 h-37 z" fill="#089981"/>
<text x="1778.80" y="304.80" font-size="12" fill="#fff" font-weight="bold" textLength="25.50" lengthAdjust="spacingAndGlyphs">2596</text>
<path d="M1771 309 h37 a2 2 0 0 1 2 2 v13 a2 2 0 0 1 -2 2 h-37 z" fill="#ff6d00"/>
<text x="1778.80" y="321.80" font-size="12" fill="#fff" font-weight="bold" textLength="25.50" lengthAdjust="spacingAndGlyphs">2592</text>
<path d="M1771 326 h37 a2 2 0 0 1 2 2 v13 a2 2 0 0 1 -2 2 h-37 z" fill="#2962ff"/>
<text x="1778.80" y="338.80" font-size="12" fill="#fff" font-weight="bold" textLength="25.50" lengthAdjust="spacingAndGlyphs">2553</text>
<path d="M1771 608 h37 a2 2 0 0 1 2 2 v13 a2 2 0 0 1 -2 2 h-37 z" fill="#26a69a"/>
<text x="1778.80" y="620.80" font-size="12" fill="#fff" font-weight="bold" textLength="26.00" lengthAdjust="spacingAndGlyphs">919K</text>
<path d="M1771 768 h41 a2 2 0 0 1 2 2 v13 a2 2 0 0 1 -2 2 h-41 z" fill="#7e57c2"/>
<text x="1778.80" y="780.80" font-size="12" fill="#fff" font-weight="bold" textLength="29.50" lengthAdjust="spacingAndGlyphs">48.00</text>
<path d="M1771 785 h41 a2 2 0 0 1 2 2 v13 a2 2 0 0 1 -2 2 h-41 z" fill="#ffeb3b"/>
<text x="1778.80" y="797.80" font-size="12" fill="#131722" textLength="29.50" lengthAdjust="spacingAndGlyphs">44.04</text>
<text x="1779.30" y="705.10" font-size="12" fill="#131722" textLength="29.50" lengthAdjust="spacingAndGlyphs">80.00</text>
<text x="1779.30" y="755.10" font-size="12" fill="#131722" textLength="29.50" lengthAdjust="spacingAndGlyphs">59.12</text>
<text x="1779.30" y="815.10" font-size="12" fill="#131722" textLength="29.50" lengthAdjust="spacingAndGlyphs">43.27</text>
<rect x="1775" y="31" width="44" height="26" rx="4" fill="#fff" stroke="#e6e8ee" stroke-width="1"/>
<text x="1793.70" y="49.30" font-size="12" fill="#131722" text-anchor="middle" textLength="19.50" lengthAdjust="spacingAndGlyphs">JPY</text>
<text x="95.20" y="851.90" font-size="12" fill="#131722" text-anchor="middle">6</text>
<text x="241.20" y="851.90" font-size="12" fill="#131722" text-anchor="middle" textLength="30.00" lengthAdjust="spacingAndGlyphs">09:30</text>
<text x="323.20" y="851.90" font-size="12" fill="#131722" text-anchor="middle" textLength="30.00" lengthAdjust="spacingAndGlyphs">09:45</text>
<text x="404.20" y="851.90" font-size="12" fill="#131722" text-anchor="middle" textLength="30.00" lengthAdjust="spacingAndGlyphs">10:00</text>
<text x="486.20" y="851.90" font-size="12" fill="#131722" text-anchor="middle" textLength="30.00" lengthAdjust="spacingAndGlyphs">10:15</text>
<text x="567.20" y="851.90" font-size="12" fill="#131722" text-anchor="middle" textLength="30.00" lengthAdjust="spacingAndGlyphs">10:30</text>
<text x="649.20" y="851.90" font-size="12" fill="#131722" text-anchor="middle" textLength="30.00" lengthAdjust="spacingAndGlyphs">10:45</text>
<text x="730.20" y="851.90" font-size="12" fill="#131722" text-anchor="middle" textLength="30.00" lengthAdjust="spacingAndGlyphs">11:00</text>
<text x="812.20" y="851.90" font-size="12" fill="#131722" text-anchor="middle" textLength="30.00" lengthAdjust="spacingAndGlyphs">11:15</text>
<text x="909.20" y="851.90" font-size="12" fill="#131722" text-anchor="middle" textLength="30.00" lengthAdjust="spacingAndGlyphs">12:30</text>
<text x="991.20" y="851.90" font-size="12" fill="#131722" text-anchor="middle" textLength="30.00" lengthAdjust="spacingAndGlyphs">12:45</text>
<text x="1072.20" y="851.90" font-size="12" fill="#131722" text-anchor="middle" textLength="30.00" lengthAdjust="spacingAndGlyphs">13:00</text>
<text x="1154.20" y="851.90" font-size="12" fill="#131722" text-anchor="middle" textLength="30.00" lengthAdjust="spacingAndGlyphs">13:15</text>
<text x="1235.20" y="851.90" font-size="12" fill="#131722" text-anchor="middle" textLength="30.00" lengthAdjust="spacingAndGlyphs">13:30</text>
<text x="1317.20" y="851.90" font-size="12" fill="#131722" text-anchor="middle" textLength="30.00" lengthAdjust="spacingAndGlyphs">13:45</text>
<text x="1398.20" y="851.90" font-size="12" fill="#131722" text-anchor="middle" textLength="30.00" lengthAdjust="spacingAndGlyphs">14:00</text>
<text x="1480.20" y="851.90" font-size="12" fill="#131722" text-anchor="middle" textLength="30.00" lengthAdjust="spacingAndGlyphs">14:15</text>
<text x="1561.20" y="851.90" font-size="12" fill="#131722" text-anchor="middle" textLength="30.00" lengthAdjust="spacingAndGlyphs">14:30</text>
<text x="1642.20" y="851.90" font-size="12" fill="#131722" text-anchor="middle" textLength="30.00" lengthAdjust="spacingAndGlyphs">14:45</text>
<text x="1740.20" y="851.90" font-size="12" fill="#131722" font-weight="bold" text-anchor="middle">7</text>
<g transform="translate(10,872.0) scale(0.546)" fill="#131722"><path d="M14 22H7V11H0V4h14v18zM28 22h-8l7.5-18h8L28 22z"/><circle cx="20" cy="8" r="4"/></g>
<text x="33.40" y="883.70" font-size="13" fill="#131722" textLength="70.20" lengthAdjust="spacingAndGlyphs">TradingView</text>
</svg>
</body></html>
